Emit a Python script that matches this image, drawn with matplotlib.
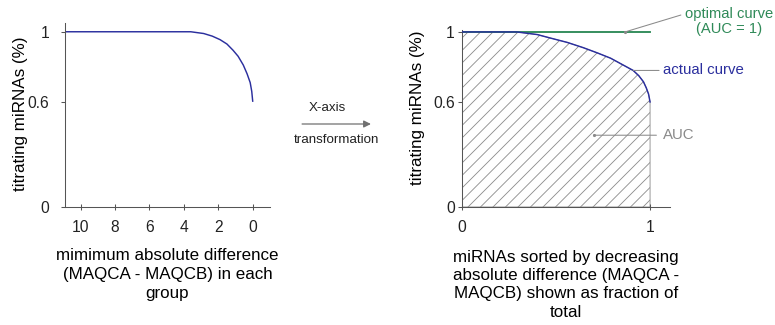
import matplotlib as mpl
mpl.use('Agg')
import matplotlib.pyplot as plt

plt.rcParams['font.family'] = ['Liberation Sans', 'DejaVu Sans']
plt.rcParams['hatch.linewidth'] = 0.8

# left: fraction of titrating miRNAs vs. minimum absolute difference
min_diff = [10.9, 3.6, 2.85, 2.35, 1.9, 1.5, 1.15, 0.85, 0.55, 0.33, 0.15, 0.06, 0.0]
titr_left = [1.0, 1.0, 0.99, 0.975, 0.955, 0.93, 0.895, 0.86, 0.81, 0.76, 0.71, 0.66, 0.6]
left_xticks = [10, 8, 6, 4, 2, 0]

# right: same curve with x rescaled to fraction of total
frac_total = [0.0, 0.29, 0.4, 0.47, 0.56, 0.645, 0.72, 0.79, 0.85, 0.91, 0.94, 0.965, 0.98, 0.992, 1.0]
titr_right = [1.0, 1.0, 0.985, 0.965, 0.94, 0.91, 0.88, 0.85, 0.815, 0.78, 0.75, 0.715, 0.68, 0.645, 0.6]
optimal_x = [0.0, 1.0]
optimal_y = [1.0, 1.0]
right_xticks = [0, 1]
yticks = [0, 0.6, 1]
ytick_labels = ['0', '0.6', '1']

BLUE = '#2b2f9e'
GREEN = '#2f8a58'
GREY = '#8a8a8a'
AXC = '#555555'

DPI = 75
fig = plt.figure(figsize=(776 / DPI, 325 / DPI), dpi=DPI)

def style_axes(ax, ypad):
    for s in ['top', 'right']:
        ax.spines[s].set_visible(False)
    for s in ['left', 'bottom']:
        ax.spines[s].set_color(AXC)
        ax.spines[s].set_linewidth(1.0)
    ax.tick_params(axis='x', direction='inout', length=6, width=1, color=AXC,
                   labelsize=15, pad=9, labelcolor='#222222')
    ax.tick_params(axis='y', direction='out', length=4, width=1, color=AXC,
                   labelsize=15, pad=ypad, labelcolor='#222222')
    ax.set_yticks(yticks)
    ax.set_yticklabels(ytick_labels)

axL = fig.add_axes([65 / 776, 118 / 325, 205 / 776, 184 / 325])
axL.plot(min_diff, titr_left, color=BLUE, lw=1.4, solid_capstyle='butt')
axL.set_xlim(10.9, -1.0)
axL.set_ylim(0, 1.05)
axL.set_xticks(left_xticks)
style_axes(axL, 11)
axL.set_ylabel('titrating miRNAs (%)', fontsize=16.3)
axL.yaxis.set_label_coords(-0.18, 0.505)
axL.set_xlabel('mimimum absolute difference\n(MAQCA - MAQCB) in each\ngroup',
               fontsize=16.3, linespacing=1.34, va='top')
axL.xaxis.set_label_coords(0.5, -0.222)

axR = fig.add_axes([462 / 776, 118 / 325, 208 / 776, 177 / 325])
axR.fill_between(frac_total, 0, titr_right, facecolor='none', edgecolor=GREY,
                 hatch='//', linewidth=0.8, zorder=1)
axR.plot(optimal_x, optimal_y, color=GREEN, lw=1.8, zorder=2)
axR.plot(frac_total, titr_right, color=BLUE, lw=1.4, zorder=3)
axR.set_xlim(0, 1.106)
axR.set_ylim(0, 1.011)
axR.set_xticks(right_xticks)
style_axes(axR, 3)
axR.set_ylabel('titrating miRNAs (%)', fontsize=16.3)
axR.yaxis.set_label_coords(-0.178, 0.56)
axR.set_xlabel('miRNAs sorted by decreasing\nabsolute difference (MAQCA -\n'
               'MAQCB) shown as fraction of\ntotal',
               fontsize=16.3, linespacing=1.27, va='top')
axR.xaxis.set_label_coords(0.5, -0.243)

# callouts on the right panel
line_kw = dict(arrowstyle='-', color=GREY, lw=1.0, shrinkA=2, shrinkB=0)
i_opt = 1
axR.annotate('optimal curve\n(AUC = 1)', xy=(0.867, optimal_y[i_opt]),
             xytext=(1.42, 1.057), textcoords='data', ha='center', va='center',
             fontsize=14.2, color=GREEN, linespacing=1.1,
             arrowprops=dict(line_kw, relpos=(0.0, 0.78)), annotation_clip=False)
axR.plot([0.867], [optimal_y[i_opt]], 'o', ms=2, color=GREY, zorder=4)

i_act = 9
axR.annotate('actual curve', xy=(frac_total[i_act], titr_right[i_act]),
             xytext=(1.07, titr_right[i_act]), ha='left', va='center',
             fontsize=14.4, color=BLUE,
             arrowprops=dict(line_kw, relpos=(0.0, 0.5)), annotation_clip=False)

axR.annotate('AUC', xy=(0.70, 0.41), xytext=(1.067, 0.41), ha='left', va='center',
             fontsize=14.4, color=GREY,
             arrowprops=dict(line_kw, relpos=(0.0, 0.5), shrinkA=4),
             annotation_clip=False)
axR.plot([0.70], [0.41], 'o', ms=2, color=GREY, zorder=4)

# transformation arrow between panels
fig.patches.append(mpl.patches.FancyArrowPatch(
    (300 / 776, 201 / 325), (373 / 776, 201 / 325), transform=fig.transFigure,
    arrowstyle='-|>', mutation_scale=14, color='#707070', lw=1.2))
fig.text(327 / 776, 217 / 325, 'X-axis', ha='center', va='center', fontsize=12.8, color='#222222')
fig.text(337 / 776, 185 / 325, 'transformation', ha='center', va='center', fontsize=12.8, color='#222222')

fig.savefig('out.png', dpi=DPI)
